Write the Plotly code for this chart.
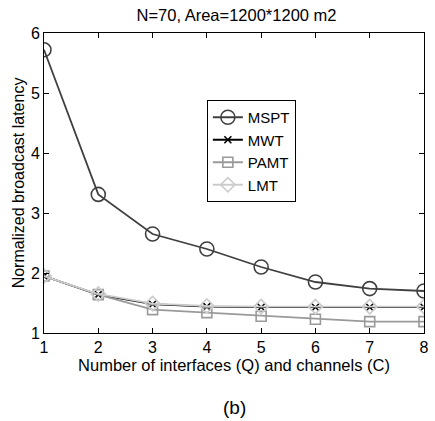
import plotly.graph_objects as go

x_vals = [1, 2, 3, 4, 5, 6, 7, 8]
mspt = [5.72, 3.31, 2.65, 2.40, 2.10, 1.85, 1.74, 1.70]
mwt = [1.95, 1.64, 1.48, 1.44, 1.43, 1.43, 1.43, 1.43]
pamt = [1.95, 1.64, 1.39, 1.34, 1.28, 1.23, 1.19, 1.19]
lmt = [1.95, 1.65, 1.49, 1.45, 1.44, 1.44, 1.44, 1.44]

series = [
    ("MSPT", mspt, "#404040", dict(symbol="circle-open", size=14, line=dict(width=1.6))),
    ("MWT", mwt, "#000000", dict(symbol="x-thin-open", size=7, line=dict(width=1.6))),
    ("PAMT", pamt, "#9a9a9a", dict(symbol="square-open", size=10, line=dict(width=1.6))),
    ("LMT", lmt, "#cccccc", dict(symbol="diamond-open", size=11, line=dict(width=1.6))),
]

fig = go.Figure()
for name, ys, color, mk in series:
    mk = dict(mk)
    mk["color"] = color
    mk["line"] = dict(mk["line"], color=color)
    fig.add_trace(go.Scatter(x=x_vals, y=ys, name=name, mode="lines+markers",
                             line=dict(color=color, width=1.8), marker=mk))

font = "Liberation Sans, Arial, sans-serif"
axis_common = dict(showline=True, linecolor="#000", linewidth=1, mirror="ticks",
                   ticks="inside", ticklen=5, tickcolor="#000", showgrid=False,
                   zeroline=False, tickfont=dict(size=16, color="#000", family=font))

fig.update_layout(
    width=435, height=421,
    margin=dict(l=44, r=6, t=33, b=88),
    paper_bgcolor="white", plot_bgcolor="white",
    font=dict(family=font, color="#000"),
    title=dict(text="N=70, Area=1200*1200 m2", x=(44 + 429) / 2 / 435, xanchor="center",
               y=1 - 15 / 421, yanchor="middle", font=dict(size=16.5, color="#000")),
    xaxis=dict(range=[1, 8], tickvals=x_vals, **axis_common,
               title=dict(text="Number of interfaces (Q) and channels (C)",
                          font=dict(size=16.5, color="#000"), standoff=0)),
    yaxis=dict(range=[1, 6], tickvals=[1, 2, 3, 4, 5, 6], **axis_common,
               title=dict(text="Normalized broadcast latency",
                          font=dict(size=16, color="#000"), standoff=2)),
    legend=dict(x=(209 - 44) / 385, y=(333 - 100) / 300, xanchor="left", yanchor="top",
                bordercolor="#000", borderwidth=1, bgcolor="white",
                font=dict(size=15, color="#000"), itemwidth=30, tracegroupgap=0),
    showlegend=True,
)

fig.add_annotation(text="(b)", xref="paper", yref="paper", x=(237 - 44) / 385,
                   y=(333 - 407) / 300, yanchor="middle",
                   showarrow=False, font=dict(size=19, color="#000"))

fig.write_html("out.html")
